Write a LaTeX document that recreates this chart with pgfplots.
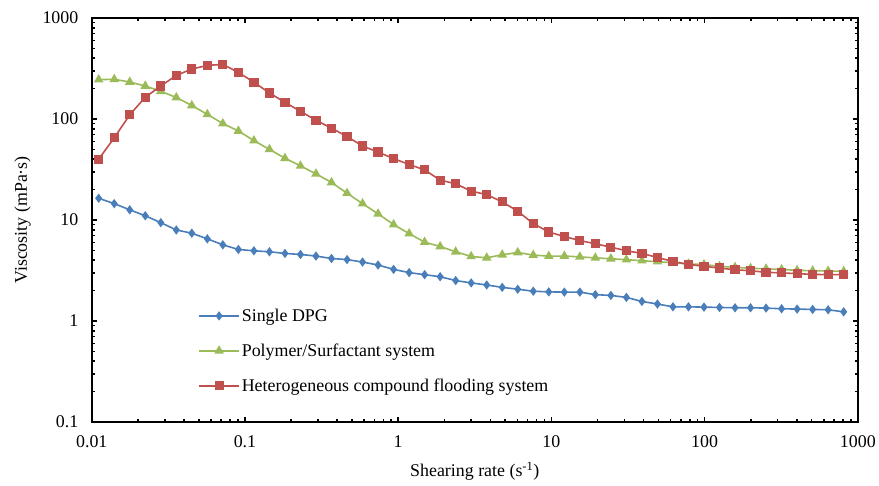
\documentclass[border=0pt]{standalone}
\usepackage{fontspec}
\setmainfont{Liberation Serif}
\usepackage{pgfplots}
\pgfplotsset{compat=1.18}

\definecolor{dpgblue}{HTML}{4A7EBB}
\definecolor{psgreen}{HTML}{9BBB59}
\definecolor{hcred}{HTML}{C0504D}

\begin{document}
\begin{tikzpicture}[font=\fontsize{18}{21}\selectfont]
\begin{axis}[
  name=ax,
  scale only axis,
  width=768bp, height=405bp,
  xmode=log, ymode=log,
  xmin=0.01, xmax=1000, ymin=0.1, ymax=1000,
  axis line style={line width=2.4bp, black},
  axis background/.style={draw=black, line width=2.4bp},
  xtick={0.01,0.1,1,10,100,1000},
  xticklabels={0.01,0.1,1,10,100,1000},
  ytick={0.1,1,10,100,1000},
  yticklabels={0.1,1,10,100,1000},
  minor tick num=0,
  minor xtick={}, minor ytick={},
  tick align=inside,
  major tick length=5bp,
  tick style={line width=1.6bp,black},
  xticklabel style={yshift=-10bp},
  yticklabel style={xshift=-10bp},
  xlabel={Shearing rate (s\textsuperscript{-1})},
  ylabel={Viscosity (mPa·s)},
  xlabel style={yshift=-8bp},
  ylabel style={yshift=5bp},
  legend style={at={(0.135,0.29)}, anchor=north west, draw=none, fill=none,
    row sep=17bp, font=\fontsize{18}{21}\selectfont},
  legend cell align=left,
  legend image code/.code={\draw[mark repeat=2,mark phase=2,#1]
    plot coordinates {(0bp,0bp) (20bp,0bp) (40bp,0bp)};},
  every axis plot/.append style={line width=1.6bp},
]
\addplot[color=dpgblue, mark=diamond*, mark size=3.4bp, mark options={fill=dpgblue}] coordinates {
(0.01110,16.4) (0.01402,14.5) (0.01770,12.6) (0.02235,11.0) (0.02822,9.4)
(0.03563,7.96) (0.04498,7.39) (0.05680,6.50) (0.07172,5.67) (0.09060,5.10)
(0.1144,4.95) (0.1444,4.84) (0.1824,4.66) (0.2303,4.55) (0.2908,4.39)
(0.3672,4.15) (0.4637,4.05) (0.5855,3.83) (0.7393,3.58) (0.9335,3.24)
(1.179,3.01) (1.488,2.87) (1.879,2.74) (2.373,2.51) (2.996,2.38)
(3.784,2.27) (4.778,2.15) (6.033,2.06) (7.618,1.97) (9.618,1.94)
(12.15,1.93) (15.34,1.93) (19.36,1.82) (24.45,1.79) (30.88,1.71)
(38.99,1.56) (49.23,1.47) (62.16,1.38) (78.50,1.38) (99.1,1.37)
(125.1,1.36) (158.0,1.35) (199.5,1.35) (251.9,1.34) (318.1,1.32)
(401.7,1.31) (507.2,1.30) (640.4,1.29) (808.7,1.23)
};
\addlegendentry{Single DPG}
\addplot[color=psgreen, mark=triangle*, mark size=4bp, mark options={fill=psgreen}] coordinates {
(0.01110,245) (0.01402,247) (0.01770,232) (0.02235,212) (0.02822,188)
(0.03563,163) (0.04498,136) (0.05680,111) (0.07172,90) (0.09060,76)
(0.1144,61) (0.1444,50) (0.1824,40.8) (0.2303,34.3) (0.2908,28.6)
(0.3672,23.5) (0.4637,18.4) (0.5855,14.5) (0.7393,11.5) (0.9335,9.0)
(1.179,7.33) (1.488,6.03) (1.879,5.46) (2.373,4.84) (2.996,4.35)
(3.784,4.22) (4.778,4.52) (6.033,4.76) (7.618,4.49) (9.618,4.38)
(12.15,4.39) (15.34,4.31) (19.36,4.21) (24.45,4.13) (30.88,4.04)
(38.99,3.95) (49.23,3.86) (62.16,3.77) (78.50,3.67) (99.1,3.62)
(125.1,3.47) (158.0,3.40) (199.5,3.32) (251.9,3.28) (318.1,3.23)
(401.7,3.17) (507.2,3.14) (640.4,3.12) (808.7,3.10)
};
\addlegendentry{Polymer/Surfactant system}
\addplot[color=hcred, mark=square*, mark size=3.8bp, mark options={fill=hcred}] coordinates {
(0.01110,40) (0.01402,65) (0.01770,110) (0.02235,164) (0.02822,212)
(0.03563,270) (0.04498,312) (0.05680,339) (0.07172,347) (0.09060,289)
(0.1144,231) (0.1444,181) (0.1824,146) (0.2303,119) (0.2908,97)
(0.3672,81) (0.4637,67) (0.5855,54) (0.7393,47) (0.9335,40.5)
(1.179,35.4) (1.488,31.3) (1.879,24.8) (2.373,22.8) (2.996,19.3)
(3.784,17.8) (4.778,15.1) (6.033,12.2) (7.618,9.2) (9.618,7.6)
(12.15,6.85) (15.34,6.26) (19.36,5.8) (24.45,5.38) (30.88,4.95)
(38.99,4.66) (49.23,4.25) (62.16,3.88) (78.50,3.63) (99.1,3.47)
(125.1,3.34) (158.0,3.21) (199.5,3.14) (251.9,3.03) (318.1,2.99)
(401.7,2.94) (507.2,2.89) (640.4,2.87) (808.7,2.87)
};
\addlegendentry{Heterogeneous compound flooding system}
\end{axis}
\path[use as bounding box] ([xshift=-92bp,yshift=-64bp]ax.south west) rectangle ([xshift=19bp,yshift=18bp]ax.north east);
\end{tikzpicture}
\end{document}
